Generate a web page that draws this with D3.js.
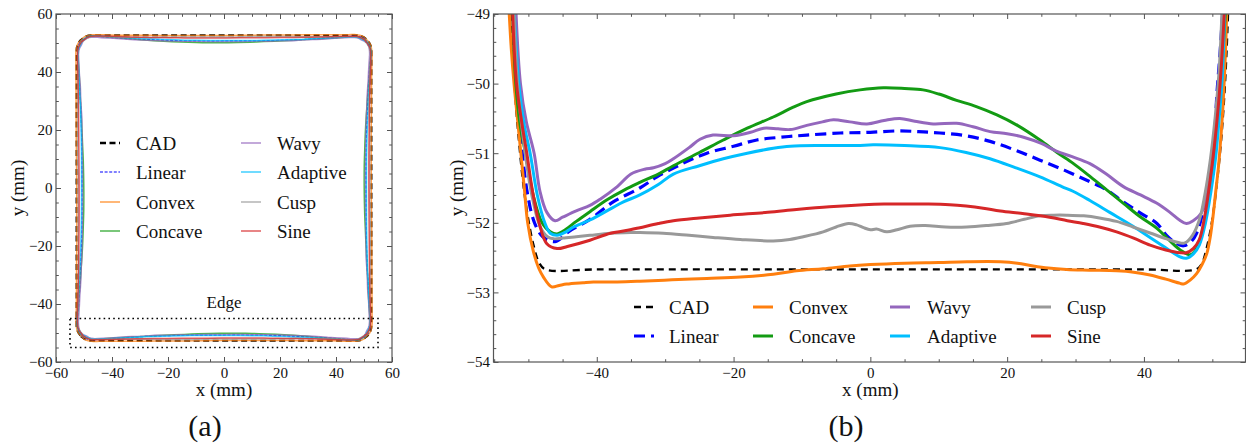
<!DOCTYPE html>
<html>
<head>
<meta charset="utf-8">
<script src="https://cdn.jsdelivr.net/npm/d3@7"></script>
<style>
  body { margin: 0; background: #fff; }
  svg, svg text { font-family: "Liberation Serif", "Times New Roman", "DejaVu Serif", serif; }
</style>
</head>
<body>
<svg id="fig" width="1246" height="445"></svg>
<script>
// ---- Edge profiles of the printed square (bottom edge, mm): [x, y] ----
const cadEdge = [[-52.45,-49.0],[-52.2,-49.6],[-51.9,-50.2],[-51.4,-50.8],[-50.8,-51.4],[-50.1,-51.9],[-49.3,-52.3],[-48.4,-52.58],[-47.5,-52.67],[-40,-52.67],[-20,-52.67],[0,-52.67],[20,-52.67],[40,-52.67],[47.6,-52.67],[48.4,-52.6],[49.2,-52.35],[50.0,-51.95],[50.7,-51.4],[51.3,-50.8],[51.8,-50.1],[52.1,-49.5],[52.3,-49.0]];

const linearEdge = [[-52.2,-49.0],[-51.8,-50.0],[-51.0,-50.9],[-50.1,-51.6],[-49.1,-52.0],[-47.9,-52.2],[-46.1,-52.27],[-44.0,-52.12],[-41.0,-51.95],[-37.6,-51.7],[-33.7,-51.5],[-31.2,-51.34],[-27.5,-51.15],[-23.9,-51.0],[-20.0,-50.9],[-16.6,-50.81],[-13.0,-50.77],[-9.3,-50.74],[-4.4,-50.71],[0,-50.7],[3.9,-50.68],[7.0,-50.69],[10.2,-50.71],[14.0,-50.75],[17.5,-50.83],[21.0,-50.95],[24.8,-51.1],[28.5,-51.25],[32.1,-51.41],[34.6,-51.53],[37.0,-51.7],[39.5,-51.86],[41.9,-52.01],[43.3,-52.18],[44.8,-52.3],[45.8,-52.33],[46.8,-52.28],[47.7,-52.15],[48.6,-51.85],[49.5,-51.35],[50.2,-50.9],[50.7,-50.1],[51.1,-49.6],[51.5,-49.0]];

const convexEdge = [[-52.8,-49.0],[-52.5,-49.5],[-52.1,-50.0],[-51.6,-50.5],[-51.1,-51.0],[-50.6,-51.5],[-50.1,-52.0],[-49.3,-52.4],[-48.5,-52.65],[-47.8,-52.78],[-46.6,-52.92],[-45.5,-52.9],[-44.4,-52.88],[-42.0,-52.86],[-40.5,-52.85],[-37.0,-52.85],[-33.7,-52.84],[-29.0,-52.82],[-23.9,-52.8],[-19.0,-52.78],[-14.2,-52.74],[-10.8,-52.69],[-6.9,-52.66],[-3.0,-52.62],[0,-52.6],[5.0,-52.58],[10.0,-52.57],[14.1,-52.56],[19.0,-52.56],[21.5,-52.58],[23.8,-52.62],[26.0,-52.65],[28.7,-52.67],[32.0,-52.68],[36.0,-52.69],[38.5,-52.71],[40.9,-52.75],[43.2,-52.81],[45.3,-52.87],[45.8,-52.88],[46.8,-52.82],[47.7,-52.73],[48.5,-52.6],[49.2,-52.44],[49.7,-52.2],[50.1,-51.91],[50.5,-51.55],[50.9,-51.19],[51.3,-50.7],[51.6,-50.24],[51.9,-49.6],[52.1,-49.0]];

const concaveEdge = [[-52.3,-49.0],[-51.84,-50.0],[-51.2,-50.6],[-50.42,-51.0],[-49.3,-51.6],[-48.0,-52.0],[-46.8,-52.13],[-45.8,-52.16],[-44.9,-52.12],[-43.0,-51.98],[-41.0,-51.84],[-38.5,-51.67],[-36.0,-51.53],[-33.7,-51.42],[-31.0,-51.3],[-28.8,-51.18],[-25.0,-50.99],[-21.5,-50.81],[-18.0,-50.64],[-14.2,-50.48],[-11.5,-50.35],[-9.3,-50.26],[-5.0,-50.15],[-1.5,-50.09],[1.9,-50.06],[5.0,-50.07],[7.7,-50.09],[10.0,-50.15],[12.6,-50.24],[15.5,-50.33],[18.5,-50.45],[21.5,-50.6],[24.8,-50.81],[27.3,-50.99],[29.7,-51.15],[32.2,-51.34],[34.6,-51.53],[37.0,-51.72],[39.4,-51.91],[41.9,-52.08],[43.7,-52.25],[45.3,-52.39],[46.8,-52.46],[47.8,-52.35],[48.7,-52.05],[49.5,-51.6],[50.3,-50.95],[51.0,-50.2],[51.5,-49.6],[51.9,-49.0]];

const wavyEdge = [[-51.8,-49.0],[-51.16,-50.0],[-50.3,-50.55],[-49.16,-51.0],[-48.3,-51.55],[-47.3,-51.85],[-46.1,-51.97],[-45.0,-51.92],[-43.0,-51.83],[-41.0,-51.75],[-39.5,-51.66],[-37.0,-51.48],[-35.0,-51.3],[-33.0,-51.23],[-31.7,-51.21],[-30.0,-51.15],[-28.8,-51.08],[-26.5,-50.92],[-24.9,-50.8],[-23.0,-50.74],[-20.0,-50.75],[-17.5,-50.7],[-15.6,-50.64],[-13.5,-50.65],[-11.7,-50.66],[-9.3,-50.6],[-7.0,-50.55],[-5.4,-50.52],[-3.0,-50.55],[-0.5,-50.58],[2.0,-50.53],[4.3,-50.5],[6.5,-50.54],[9.2,-50.58],[12.6,-50.57],[15.0,-50.62],[17.5,-50.69],[20.0,-50.72],[22.4,-50.77],[25.0,-50.86],[27.2,-50.97],[29.5,-51.05],[32.1,-51.15],[34.5,-51.3],[37.0,-51.48],[39.5,-51.6],[41.9,-51.72],[43.8,-51.85],[45.2,-51.96],[46.2,-52.01],[47.2,-51.97],[48.4,-51.86],[49.2,-51.6],[49.7,-51.34],[50.3,-50.9],[50.8,-50.3],[51.3,-49.6],[51.6,-49.0]];

const adaptiveEdge = [[-52.05,-49.0],[-51.4,-50.0],[-50.6,-50.6],[-49.74,-51.0],[-48.7,-51.6],[-47.6,-52.0],[-46.8,-52.15],[-45.8,-52.18],[-44.5,-52.13],[-43.4,-52.06],[-41.0,-51.96],[-38.0,-51.8],[-36.1,-51.7],[-33.7,-51.6],[-31.0,-51.45],[-28.8,-51.3],[-25.0,-51.18],[-21.5,-51.08],[-18.0,-51.0],[-14.2,-50.93],[-11.7,-50.9],[-7.0,-50.89],[-2.0,-50.89],[0.4,-50.88],[5.0,-50.89],[10.2,-50.92],[14.0,-50.99],[17.5,-51.08],[21.0,-51.2],[24.8,-51.34],[28.0,-51.48],[29.7,-51.55],[32.1,-51.68],[35.0,-51.85],[38.4,-52.05],[41.0,-52.22],[43.5,-52.38],[45.3,-52.49],[46.2,-52.51],[47.2,-52.45],[48.1,-52.32],[49.0,-52.0],[49.8,-51.55],[50.5,-51.05],[51.0,-50.5],[51.46,-49.9],[51.8,-49.0]];

const cuspEdge = [[-52.1,-49.0],[-51.6,-50.0],[-50.6,-50.9],[-49.5,-51.6],[-48.3,-52.05],[-47.2,-52.2],[-46.3,-52.23],[-45.0,-52.22],[-43.0,-52.2],[-41.0,-52.18],[-38.0,-52.15],[-35.1,-52.14],[-33.7,-52.14],[-30.3,-52.15],[-26.5,-52.18],[-23.0,-52.21],[-19.0,-52.24],[-14.2,-52.26],[-11.8,-52.24],[-9.8,-52.2],[-6.9,-52.13],[-5.0,-52.06],[-3.2,-52.01],[-2.0,-52.03],[-1.0,-52.07],[0,-52.1],[0.9,-52.09],[2.4,-52.13],[3.9,-52.1],[5.8,-52.05],[8.0,-52.04],[11.0,-52.06],[14.1,-52.06],[17.0,-52.04],[19.9,-52.01],[22.5,-51.95],[24.8,-51.9],[26.8,-51.89],[28.7,-51.89],[31.2,-51.9],[33.5,-51.93],[36.0,-51.98],[38.4,-52.06],[41.0,-52.15],[43.3,-52.23],[45.3,-52.29],[46.0,-52.29],[47.1,-52.18],[48.1,-51.96],[48.9,-51.6],[49.7,-51.1],[50.4,-50.5],[51.0,-49.8],[51.4,-49.0]];

const sineEdge = [[-52.3,-49.0],[-51.74,-50.0],[-50.9,-50.6],[-50.23,-51.0],[-49.3,-51.6],[-48.3,-52.05],[-47.3,-52.3],[-45.8,-52.37],[-44.3,-52.34],[-41.0,-52.25],[-38.0,-52.15],[-35.1,-52.1],[-33.7,-52.07],[-31.0,-52.01],[-28.8,-51.97],[-25.0,-51.93],[-20.5,-51.89],[-15.0,-51.85],[-10.8,-51.81],[-6.0,-51.77],[-1.0,-51.74],[2.0,-51.73],[5.8,-51.73],[8.5,-51.73],[11.6,-51.74],[14.0,-51.76],[16.5,-51.79],[19.0,-51.83],[22.5,-51.87],[26.2,-51.92],[28.8,-51.97],[31.1,-52.01],[33.5,-52.06],[36.0,-52.13],[38.5,-52.22],[40.9,-52.32],[43.2,-52.39],[45.3,-52.43],[46.2,-52.43],[47.2,-52.37],[48.1,-52.24],[48.9,-51.9],[49.6,-51.45],[50.3,-50.9],[50.9,-50.3],[51.35,-49.7],[51.75,-49.0]];

// ---- Series names and tick labels ----
const seriesNames = ["CAD", "Linear", "Convex", "Concave", "Wavy", "Adaptive", "Cusp", "Sine"];
const seriesProfiles = [cadEdge, linearEdge, convexEdge, concaveEdge, wavyEdge, adaptiveEdge, cuspEdge, sineEdge];
const contourTicks = [-60, -40, -20, 0, 20, 40, 60];
const edgeXTicks = [-40, -20, 0, 20, 40];
const edgeYTicks = [-54, -53, -52, -51, -50, -49];
const edgeBox = [[-55, -55], [55, -45]];

// ---- Styles ----
const FONT = '"Liberation Serif", "Times New Roman", "DejaVu Serif", serif';
const style = {
  CAD:      { color: "#000000", wB: 2.3, dashB: "7,5",  wA: 2.0, dashA: "6,3.5", opA: 1 },
  Linear:   { color: "#0000ff", wB: 3.2, dashB: "11,6", wA: 1.2, dashA: "3,1.6", opA: 1 },
  Convex:   { color: "#ff7f0e", wB: 3,   dashB: null,   wA: 1.5, dashA: null, opA: 0.75 },
  Concave:  { color: "#139b13", wB: 3,   dashB: null,   wA: 1.5, dashA: null, opA: 0.75 },
  Wavy:     { color: "#9467bd", wB: 3,   dashB: null,   wA: 1.5, dashA: null, opA: 0.75 },
  Adaptive: { color: "#00bfff", wB: 3,   dashB: null,   wA: 1.5, dashA: null, opA: 0.75 },
  Cusp:     { color: "#999999", wB: 3,   dashB: null,   wA: 1.5, dashA: null, opA: 0.75 },
  Sine:     { color: "#d62728", wB: 3,   dashB: null,   wA: 1.5, dashA: null, opA: 0.75 }
};
const frameColor = "#555";

const svg = d3.select("#fig");
const fmt = d3.format("d");

function label(g, x, y, txt, size, anchor) {
  return g.append("text").attr("x", x).attr("y", y)
    .attr("text-anchor", anchor || "start")
    .style("font-family", FONT).style("font-size", size + "px").style("fill", "#111")
    .text(txt);
}

function minorValues(lo, hi, step, majors) {
  return d3.range(lo, hi + step / 2, step)
    .map(v => +v.toFixed(4))
    .filter(v => !majors.some(m => Math.abs(m - v) < 1e-6));
}

function drawAxes(g, x, y, xMaj, xMin, yMaj, yMin) {
  const [x0, x1] = x.range();
  const [y0, y1] = y.range(); // y0 bottom, y1 top
  const put = (axis, tx, ty, withText) => {
    const a = g.append("g").attr("transform", `translate(${tx},${ty})`).call(axis);
    a.select(".domain").remove();
    a.selectAll("line").attr("stroke", frameColor).attr("stroke-width", 1);
    if (withText) {
      a.selectAll("text").style("font-family", FONT).style("font-size", "15px").style("fill", "#111");
    } else {
      a.selectAll("text").remove();
    }
    return a;
  };
  put(d3.axisBottom(x).tickValues(xMaj).tickSize(-5).tickPadding(5).tickFormat(fmt), 0, y0, true);
  put(d3.axisBottom(x).tickValues(xMin).tickSize(-2.8).tickFormat(""), 0, y0, false);
  put(d3.axisTop(x).tickValues(xMaj).tickSize(-5).tickFormat(""), 0, y1, false);
  put(d3.axisTop(x).tickValues(xMin).tickSize(-2.8).tickFormat(""), 0, y1, false);
  put(d3.axisLeft(y).tickValues(yMaj).tickSize(-5).tickPadding(3.5).tickFormat(fmt), x0, 0, true);
  put(d3.axisLeft(y).tickValues(yMin).tickSize(-2.8).tickFormat(""), x0, 0, false);
  put(d3.axisRight(y).tickValues(yMaj).tickSize(-5).tickFormat(""), x1, 0, false);
  put(d3.axisRight(y).tickValues(yMin).tickSize(-2.8).tickFormat(""), x1, 0, false);
  g.append("rect")
    .attr("x", x0).attr("y", y1).attr("width", x1 - x0).attr("height", y0 - y1)
    .attr("fill", "none").attr("stroke", frameColor).attr("stroke-width", 1.2);
}

// ================= (a) full contour =================
const ax = d3.scaleLinear().domain([-60, 60]).range([56, 392]);
const ay = d3.scaleLinear().domain([-60, 60]).range([362, 14]);
const gA = svg.append("g");

// keep the part of a bottom-edge profile lying in the wedge below both diagonals
function clipToWedge(pts) {
  const f = p => -p[1] - Math.abs(p[0]);
  const out = [];
  for (let i = 0; i < pts.length; i++) {
    const a = pts[i], fa = f(a);
    if (fa >= 0) out.push(a);
    if (i + 1 < pts.length) {
      const b = pts[i + 1], fb = f(b);
      if ((fa >= 0) !== (fb >= 0)) {
        const t = fa / (fa - fb);
        out.push([a[0] + t * (b[0] - a[0]), a[1] + t * (b[1] - a[1])]);
      }
    }
  }
  return out;
}
// the edge profile is laid on all four sides of the square, going round counter-clockwise
function closedContour(profile) {
  const side = clipToWedge(profile);
  return [].concat(
    side.map(([x, y]) => [x, y]),
    side.map(([x, y]) => [-y, x]),
    side.map(([x, y]) => [-x, -y]),
    side.map(([x, y]) => [y, -x])
  );
}
const contourLine = d3.line().x(d => ax(d[0])).y(d => ay(d[1])).curve(d3.curveLinearClosed);

seriesNames.forEach((name, i) => {
  const s = style[name];
  gA.append("path")
    .attr("d", contourLine(closedContour(seriesProfiles[i])))
    .attr("fill", "none")
    .attr("stroke", s.color)
    .attr("stroke-opacity", s.opA)
    .attr("stroke-width", s.wA)
    .attr("stroke-dasharray", s.dashA)
    .attr("stroke-linejoin", "round");
});

// region enlarged in (b)
gA.append("rect")
  .attr("x", ax(edgeBox[0][0])).attr("y", ay(edgeBox[1][1]))
  .attr("width", ax(edgeBox[1][0]) - ax(edgeBox[0][0]))
  .attr("height", ay(edgeBox[0][1]) - ay(edgeBox[1][1]))
  .attr("fill", "none").attr("stroke", "#000").attr("stroke-width", 1.6)
  .attr("stroke-dasharray", "1.6,3.2");
label(gA, ax(0), 308, "Edge", 17, "middle");

drawAxes(gA, ax, ay, contourTicks, minorValues(-60, 60, 5, contourTicks),
         contourTicks, minorValues(-60, 60, 5, contourTicks));

// legend (a)
const legA = gA.append("g");
seriesNames.forEach((name, i) => {
  const s = style[name];
  const col = i < 4 ? 0 : 1, row = i % 4;
  const lx0 = [100, 241][col], tx = [136, 277][col];
  const yy = [143, 172, 202, 231][row];
  legA.append("line").attr("x1", lx0).attr("x2", lx0 + 20).attr("y1", yy).attr("y2", yy)
    .attr("stroke", s.color).attr("stroke-opacity", s.opA)
    .attr("stroke-width", name === "CAD" ? 2.4 : s.wA)
    .attr("stroke-dasharray", s.dashA);
  label(legA, tx, yy + 6.5, name, 19);
});

label(gA, ax(0), 396, "x (mm)", 19, "middle");
label(gA, 0, 0, "y (mm)", 19, "middle").attr("transform", `translate(24,${ay(0)}) rotate(-90)`);
label(gA, 205, 436, "(a)", 30, "middle");

// ================= (b) bottom edge =================
const bx = d3.scaleLinear().domain([-55.1, 54.85]).range([493.5, 1245.5]);
const by = d3.scaleLinear().domain([-54, -49]).range([362, 14]);
const gB = svg.append("g");

svg.append("defs").append("clipPath").attr("id", "clipB")
  .append("rect").attr("x", bx.range()[0]).attr("y", by.range()[1])
  .attr("width", bx.range()[1] - bx.range()[0]).attr("height", by.range()[0] - by.range()[1]);

const edgeLine = d3.line().x(d => bx(d[0])).y(d => by(d[1])).curve(d3.curveCatmullRom.alpha(0.5));
const plotB = gB.append("g").attr("clip-path", "url(#clipB)");
seriesNames.forEach((name, i) => {
  const s = style[name];
  plotB.append("path")
    .attr("d", edgeLine(seriesProfiles[i]))
    .attr("fill", "none")
    .attr("stroke", s.color)
    .attr("stroke-width", s.wB)
    .attr("stroke-dasharray", s.dashB)
    .attr("stroke-linejoin", "round");
});

drawAxes(gB, bx, by, edgeXTicks, minorValues(-55, 50, 5, edgeXTicks),
         edgeYTicks, minorValues(-54, -49, 0.2, edgeYTicks));

// legend (b)
const legB = gB.append("g");
seriesNames.forEach((name, i) => {
  const s = style[name];
  const col = Math.floor(i / 2), row = i % 2;
  const lx0 = [634, 753, 890, 1031][col], tx = [669, 789, 927, 1067][col];
  const yy = [307, 336][row];
  legB.append("line").attr("x1", lx0).attr("x2", lx0 + 20).attr("y1", yy).attr("y2", yy)
    .attr("stroke", s.color).attr("stroke-width", s.wB).attr("stroke-dasharray", s.dashB);
  label(legB, tx, yy + 6.5, name, 19);
});

label(gB, bx(0), 396, "x (mm)", 19, "middle");
label(gB, 0, 0, "y (mm)", 19, "middle").attr("transform", `translate(463,${by(-51.5)}) rotate(-90)`);
label(gB, 846, 436, "(b)", 30, "middle");
</script>
</body>
</html>
